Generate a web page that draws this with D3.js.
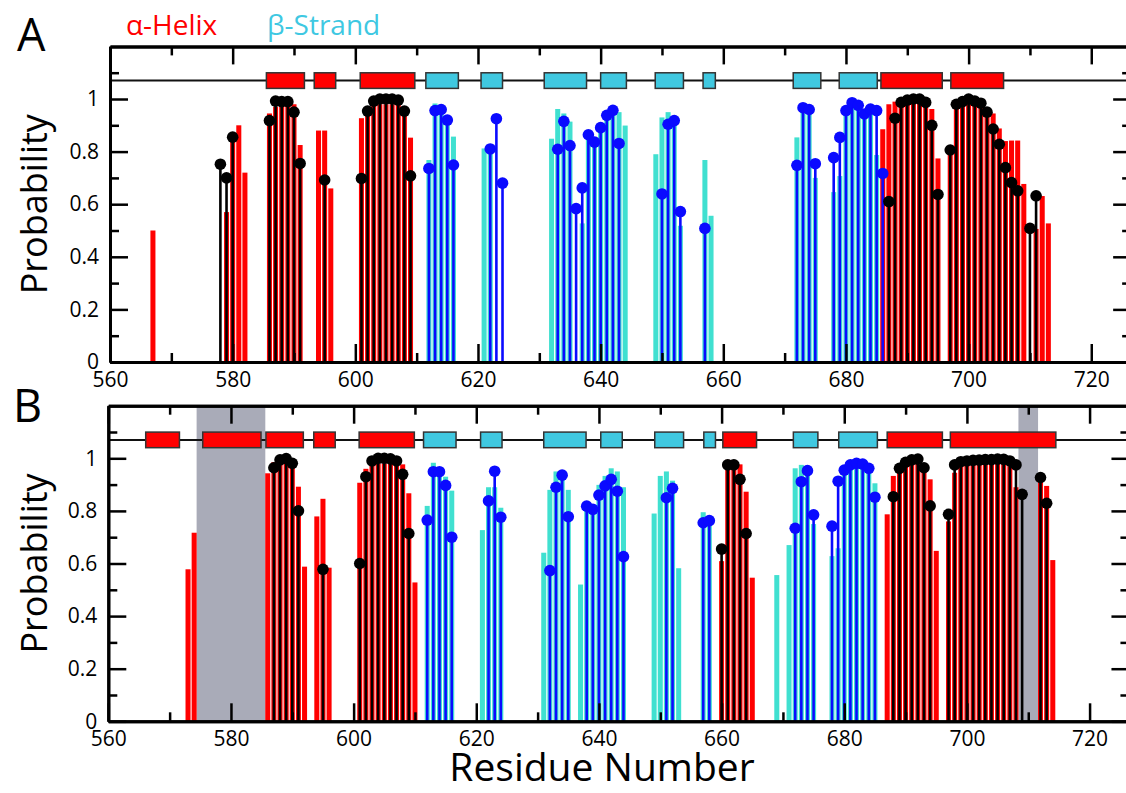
<!DOCTYPE html>
<html>
<head>
<meta charset="utf-8">
<script src="https://cdn.jsdelivr.net/npm/d3@7"></script>
<style>
  body { margin: 0; background: #fff; }
  text { font-family: "Open Sans", sans-serif; }
</style>
</head>
<body>
<div id="vis"></div>
<script>
// ---- data: [residue, probability] ----
const helixBarsA = [[567,0.50],[579,0.57],[580,0.85],[581,0.90],[582,0.72],
  [586,0.945],[587,0.97],[588,0.98],[589,0.98],[590,0.98],[591,0.825],
  [594,0.88],[595,0.88],[596,0.66],
  [601,0.927],[602,0.96],[603,0.98],[604,0.98],[605,0.98],[606,0.98],[607,0.98],[608,0.97],[609,0.853],
  [686,0.885],[687,0.98],[688,0.99],[689,0.99],[690,0.99],[691,0.99],[692,0.99],[693,0.985],[694,0.962],[695,0.774],
  [697,0.80],[698,0.97],[699,0.98],[700,0.98],[701,0.98],[702,0.975],[703,0.96],[704,0.945],[705,0.888],
  [706,0.84],[707,0.842],[708,0.842],[709,0.677],[711,0.506],[712,0.631],[713,0.527]];
const strandBarsA = [[612,0.768],[613,0.983],[614,0.97],[615,0.92],[616,0.857],
  [621,0.812],[622,0.812],
  [632,0.849],[633,0.962],[634,0.945],[635,0.914],[637,0.527],[638,0.844],[639,0.85],[640,0.88],
  [641,0.93],[642,0.96],[643,0.95],[644,0.899],
  [649,0.79],[650,0.93],[651,0.95],[652,0.92],[653,0.518],[657,0.768],[658,0.556],
  [672,0.854],[673,0.96],[674,0.95],[675,0.70],
  [678,0.646],[679,0.707],[680,0.94],[681,0.98],[682,0.97],[683,0.94],[684,0.96],[685,0.787]];
const helixDotsA = [[578,0.752],[579,0.70],[580,0.855],
  [586,0.918],[587,0.992],[588,0.99],[589,0.99],[590,0.95],[591,0.755],[595,0.692],
  [601,0.698],[602,0.954],[603,0.992],[604,1.0],[605,1.0],[606,1.0],[607,0.996],[608,0.954],[609,0.708],
  [687,0.61],[688,0.927],[689,0.987],[690,0.996],[691,1.0],[692,1.0],[693,0.987],[694,0.90],[695,0.637],
  [697,0.806],[698,0.98],[699,0.99],[700,1.0],[701,0.992],[702,0.984],[703,0.95],[704,0.886],[705,0.828],
  [706,0.739],[707,0.682],[708,0.651],[710,0.508],[711,0.632]];
const strandDotsA = [[612,0.736],[613,0.956],[614,0.96],[615,0.92],[616,0.749],
  [622,0.81],[623,0.925],[624,0.68],
  [633,0.809],[634,0.915],[635,0.823],[636,0.583],[637,0.662],[638,0.864],[639,0.836],[640,0.891],
  [641,0.938],[642,0.957],[643,0.831],
  [650,0.639],[651,0.904],[652,0.918],[653,0.572],[657,0.508],
  [672,0.748],[673,0.967],[674,0.96],[675,0.754],
  [678,0.777],[679,0.854],[680,0.956],[681,0.986],[682,0.976],[683,0.943],[684,0.962],[685,0.956],[686,0.717]];

const helixBarsB = [[573,0.578],[574,0.717],
  [586,0.943],[587,0.985],[588,0.99],[589,0.99],[590,0.98],[591,0.892],[592,0.588],
  [594,0.779],[595,0.846],[596,0.584],
  [601,0.907],[602,0.96],[603,0.98],[604,0.98],[605,0.98],[606,0.98],[607,0.98],[608,0.977],[609,0.867],[610,0.528],
  [660,0.609],[661,0.994],[662,0.99],[663,0.977],[664,0.873],[665,0.546],
  [687,0.787],[688,0.933],[689,0.96],[690,0.98],[691,0.99],[692,0.99],[693,0.98],[694,0.92],[695,0.648],
  [697,0.76],[698,0.945],[699,0.975],[700,0.98],[701,0.98],[702,0.98],[703,0.98],[704,0.98],[705,0.98],
  [706,0.98],[707,0.97],[708,0.89],[712,0.933],[713,0.895],[714,0.613]];
const strandBarsB = [[612,0.819],[613,0.983],[614,0.96],[615,0.93],[616,0.877],
  [621,0.727],[622,0.89],[623,0.89],[624,0.812],
  [631,0.641],[632,0.88],[633,0.95],[634,0.94],[635,0.88],[637,0.52],[638,0.835],[639,0.82],[640,0.899],
  [641,0.933],[642,0.962],[643,0.95],[644,0.89],
  [649,0.79],[650,0.933],[651,0.95],[652,0.915],[653,0.582],[657,0.795],[658,0.778],
  [669,0.556],[671,0.67],[672,0.962],[673,0.975],[674,0.96],[675,0.75],
  [678,0.628],[679,0.658],[680,0.96],[681,0.97],[682,0.97],[683,0.97],[684,0.96],[685,0.905]];
const helixDotsB = [[587,0.964],[588,0.994],[589,0.999],[590,0.981],[591,0.80],[595,0.578],
  [601,0.60],[602,0.93],[603,0.99],[604,1.0],[605,1.0],[606,0.998],[607,0.99],[608,0.939],[609,0.714],
  [660,0.655],[661,0.975],[662,0.975],[663,0.92],[664,0.714],
  [688,0.854],[689,0.962],[690,0.985],[691,0.994],[692,0.997],[693,0.964],[694,0.819],
  [697,0.787],[698,0.975],[699,0.987],[700,0.99],[701,0.992],[702,0.993],[703,0.995],[704,0.995],
  [705,0.997],[706,0.996],[707,0.99],[708,0.975],[709,0.863],[712,0.927],[713,0.829]];
const strandDotsB = [[612,0.765],[613,0.949],[614,0.949],[615,0.897],[616,0.70],
  [622,0.838],[623,0.951],[624,0.776],
  [632,0.573],[633,0.89],[634,0.936],[635,0.778],[638,0.818],[639,0.806],[640,0.86],[641,0.895],
  [642,0.92],[643,0.875],[644,0.626],[651,0.85],[652,0.886],[657,0.755],[658,0.763],
  [672,0.734],[673,0.911],[674,0.953],[675,0.785],
  [678,0.742],[679,0.913],[680,0.955],[681,0.975],[682,0.981],[683,0.978],[684,0.962],[685,0.852]];

// secondary structure boxes [start, end] in residue units
const helixBoxesA = [[585.5,591.7],[593.3,596.8],[600.8,609.7],[685.7,695.7],[697.1,705.7]];
const strandBoxesA = [[611.5,616.8],[620.5,624.0],[630.8,637.7],[640.0,644.2],[648.9,653.5],
  [656.7,658.7],[671.4,675.9],[678.9,685.1]];
const helixBoxesB = [[566.1,571.6],[575.4,584.9],[585.7,591.8],[593.5,597.0],[600.9,609.9],
  [660.2,665.7],[687.0,696.0],[697.3,714.5]];
const strandBoxesB = [[611.4,616.7],[620.7,624.2],[631.0,637.9],[640.3,643.8],[649.1,653.8],
  [657.1,659.0],[671.7,675.7],[679.1,685.4]];
const shadesB = [[574.4,585.6],[708.4,711.6]];

const xMajor = [560,580,600,620,640,660,680,700,720];
const xMinor = [570,590,610,630,650,670,690,710];
const yMajor = [0,0.2,0.4,0.6,0.8,1];
const yMinor = [0.1,0.3,0.5,0.7,0.9,1.1];

const width = 1126, height = 793;
const pxPerRes = 6.133, pxPerUnit = 263;

const svg = d3.select('#vis').append('svg')
    .attr('width', width)
    .attr('height', height);

function drawPanel(p) {
    const x = d3.scaleLinear().domain([560, 726.5]).range([p.x0, p.x0 + 166.5 * pxPerRes]);
    const y = d3.scaleLinear().domain([0, 1.2]).range([p.y0, p.y0 - 1.2 * pxPerUnit]);
    const g = svg.append('g');
    const bw = x(560.82) - x(560);

    // grey shaded regions
    g.selectAll('.shade').data(p.shades).join('rect')
        .attr('x', d => x(d[0]))
        .attr('width', d => x(d[1]) - x(d[0]))
        .attr('y', y(1.2))
        .attr('height', y(0) - y(1.2))
        .attr('fill', '#a9abb8');

    // bars
    g.selectAll('.hbar').data(p.helixBars).join('rect')
        .attr('x', d => x(d[0]) - bw / 2)
        .attr('width', bw)
        .attr('y', d => y(d[1]))
        .attr('height', d => y(0) - y(d[1]))
        .attr('fill', '#ff0000');
    g.selectAll('.sbar').data(p.strandBars).join('rect')
        .attr('x', d => x(d[0]) - bw / 2)
        .attr('width', bw)
        .attr('y', d => y(d[1]))
        .attr('height', d => y(0) - y(d[1]))
        .attr('fill', '#40e0d0');

    // structure line + boxes
    g.append('line')
        .attr('x1', x(560)).attr('x2', width)
        .attr('y1', y(1.07)).attr('y2', y(1.07))
        .attr('stroke', '#111').attr('stroke-width', 2);
    const boxH = 15.6;
    g.selectAll('.hbox').data(p.helixBoxes).join('rect')
        .attr('x', d => x(d[0])).attr('width', d => x(d[1]) - x(d[0]))
        .attr('y', y(1.07) - boxH / 2).attr('height', boxH)
        .attr('fill', '#ff0000').attr('stroke', '#333').attr('stroke-width', 1.5);
    g.selectAll('.sbox').data(p.strandBoxes).join('rect')
        .attr('x', d => x(d[0])).attr('width', d => x(d[1]) - x(d[0]))
        .attr('y', y(1.07) - boxH / 2).attr('height', boxH)
        .attr('fill', '#40c8e0').attr('stroke', '#333').attr('stroke-width', 1.5);

    // lollipops
    const stems = [[p.helixDots, '#000'], [p.strandDots, '#0a0aff']];
    stems.forEach(([data, col]) => {
        g.append('g').selectAll('line').data(data).join('line')
            .attr('x1', d => x(d[0])).attr('x2', d => x(d[0]))
            .attr('y1', y(0)).attr('y2', d => y(d[1]))
            .attr('stroke', col).attr('stroke-width', 2.6);
    });
    stems.forEach(([data, col]) => {
        g.append('g').selectAll('circle').data(data).join('circle')
            .attr('cx', d => x(d[0])).attr('cy', d => y(d[1]))
            .attr('r', 5.8).attr('fill', col);
    });

    // axes, ticks pointing inward
    const fmt = d => (d === 0 || d === 1) ? String(d) : d3.format('.1f')(d);
    const axes = [
        [d3.axisBottom(x).tickValues(xMajor).tickSizeInner(-18).tickSizeOuter(0).tickPadding(10), `translate(0,${y(0)})`, true],
        [d3.axisBottom(x).tickValues(xMinor).tickSizeInner(-9).tickSizeOuter(0).tickFormat(''), `translate(0,${y(0)})`, false],
        [d3.axisTop(x).tickValues(xMajor).tickSizeInner(-18).tickSizeOuter(0).tickFormat(''), `translate(0,${y(1.2)})`, false],
        [d3.axisTop(x).tickValues(xMinor).tickSizeInner(-9).tickSizeOuter(0).tickFormat(''), `translate(0,${y(1.2)})`, false],
        [d3.axisLeft(y).tickValues(yMajor).tickSizeInner(-18).tickSizeOuter(0).tickPadding(11).tickFormat(fmt), `translate(${x(560)},0)`, true],
        [d3.axisLeft(y).tickValues(yMinor).tickSizeInner(-9).tickSizeOuter(0).tickFormat(''), `translate(${x(560)},0)`, false],
        [d3.axisRight(y).tickValues(yMajor).tickSizeInner(-18).tickSizeOuter(0).tickFormat(''), `translate(${x(726.5)},0)`, false],
        [d3.axisRight(y).tickValues(yMinor).tickSizeInner(-9).tickSizeOuter(0).tickFormat(''), `translate(${x(726.5)},0)`, false]
    ];
    axes.forEach(([ax, tr, labels]) => {
        const a = g.append('g').attr('transform', tr).call(ax);
        a.select('.domain').attr('stroke', '#000').attr('stroke-width', 3);
        a.selectAll('.tick line').attr('stroke', '#000').attr('stroke-width', 2.5);
        if (labels) {
            a.selectAll('.tick text')
                .style('font-family', '"Open Sans", sans-serif')
                .style('font-size', '21px')
                .attr('fill', '#000');
        } else {
            a.selectAll('.tick text').remove();
        }
    });

    // y label and panel letter
    g.append('text')
        .attr('transform', `translate(${p.ylabX},${y(0.6)}) rotate(-90)`)
        .attr('text-anchor', 'middle')
        .style('font-size', '36px')
        .text('Probability');
    g.append('text')
        .attr('x', p.letterX).attr('y', p.letterY)
        .style('font-size', '45px')
        .text(p.letter);
}

drawPanel({x0: 110, y0: 362, letter: 'A', letterX: 17, letterY: 51, ylabX: 47,
    helixBars: helixBarsA, strandBars: strandBarsA, helixDots: helixDotsA, strandDots: strandDotsA,
    helixBoxes: helixBoxesA, strandBoxes: strandBoxesA, shades: []});
drawPanel({x0: 108.3, y0: 721.3, letter: 'B', letterX: 13, letterY: 422, ylabX: 47,
    helixBars: helixBarsB, strandBars: strandBarsB, helixDots: helixDotsB, strandDots: strandDotsB,
    helixBoxes: helixBoxesB, strandBoxes: strandBoxesB, shades: shadesB});

// legend text
svg.append('text').attr('x', 126).attr('y', 35)
    .style('font-size', '28px').attr('fill', '#ff0000').text('α-Helix');
svg.append('text').attr('x', 267).attr('y', 35)
    .style('font-size', '28px').attr('fill', '#3ec8e2').text('β-Strand');

// x label
svg.append('text')
    .attr('x', 602).attr('y', 781)
    .attr('text-anchor', 'middle')
    .style('font-size', '39px')
    .text('Residue Number');
</script>
</body>
</html>
